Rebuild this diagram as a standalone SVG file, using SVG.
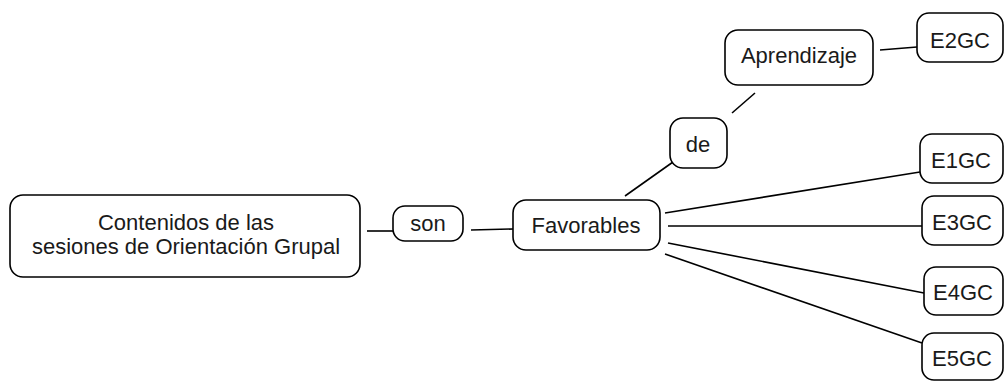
<svg xmlns="http://www.w3.org/2000/svg" width="1005" height="381" viewBox="0 0 1005 381">
<style>
.n rect{fill:#fff;stroke:#000;stroke-width:1.6}
.n text{font-family:"Liberation Sans",Arial,sans-serif;font-size:22px;fill:#1a1a1a;text-anchor:middle}
.c line{stroke:#000;stroke-width:1.6}
</style>
<rect width="1005" height="381" fill="#fff"/>
<g class="c">
<line x1="367" y1="231" x2="393" y2="231"/>
<line x1="471" y1="230" x2="513" y2="229"/>
<line x1="625" y1="196" x2="673" y2="162"/>
<line x1="732" y1="113" x2="755" y2="93"/>
<line x1="880" y1="50" x2="917" y2="47"/>
<line x1="665" y1="213" x2="920" y2="172"/>
<line x1="668" y1="226" x2="922" y2="226"/>
<line x1="668" y1="243" x2="924" y2="293"/>
<line x1="665" y1="254" x2="922" y2="343"/>
</g>
<g id="contenidos" class="n"><rect x="10" y="195" width="350" height="82" rx="13"/><text x="186" y="230">Contenidos de las</text><text x="186" y="254">sesiones de Orientación Grupal</text></g>
<g id="son" class="n"><rect x="393" y="206" width="70" height="35" rx="12"/><text x="428" y="231">son</text></g>
<g id="favorables" class="n"><rect x="513" y="200" width="147" height="50" rx="13"/><text x="586" y="233">Favorables</text></g>
<g id="de" class="n"><rect x="670" y="118" width="57" height="50" rx="13"/><text x="698" y="152">de</text></g>
<g id="aprendizaje" class="n"><rect x="725" y="30" width="148" height="55" rx="13"/><text x="799" y="63">Aprendizaje</text></g>
<g id="e2gc" class="n"><rect x="917" y="13" width="86" height="49" rx="12"/><text x="960" y="48">E2GC</text></g>
<g id="e1gc" class="n"><rect x="920" y="134" width="83" height="49" rx="12"/><text x="961" y="168">E1GC</text></g>
<g id="e3gc" class="n"><rect x="922" y="196" width="81" height="49" rx="12"/><text x="962" y="230">E3GC</text></g>
<g id="e4gc" class="n"><rect x="924" y="267" width="79" height="48" rx="12"/><text x="963" y="300">E4GC</text></g>
<g id="e5gc" class="n"><rect x="922" y="333" width="81" height="47" rx="12"/><text x="962" y="366">E5GC</text></g>
</svg>
